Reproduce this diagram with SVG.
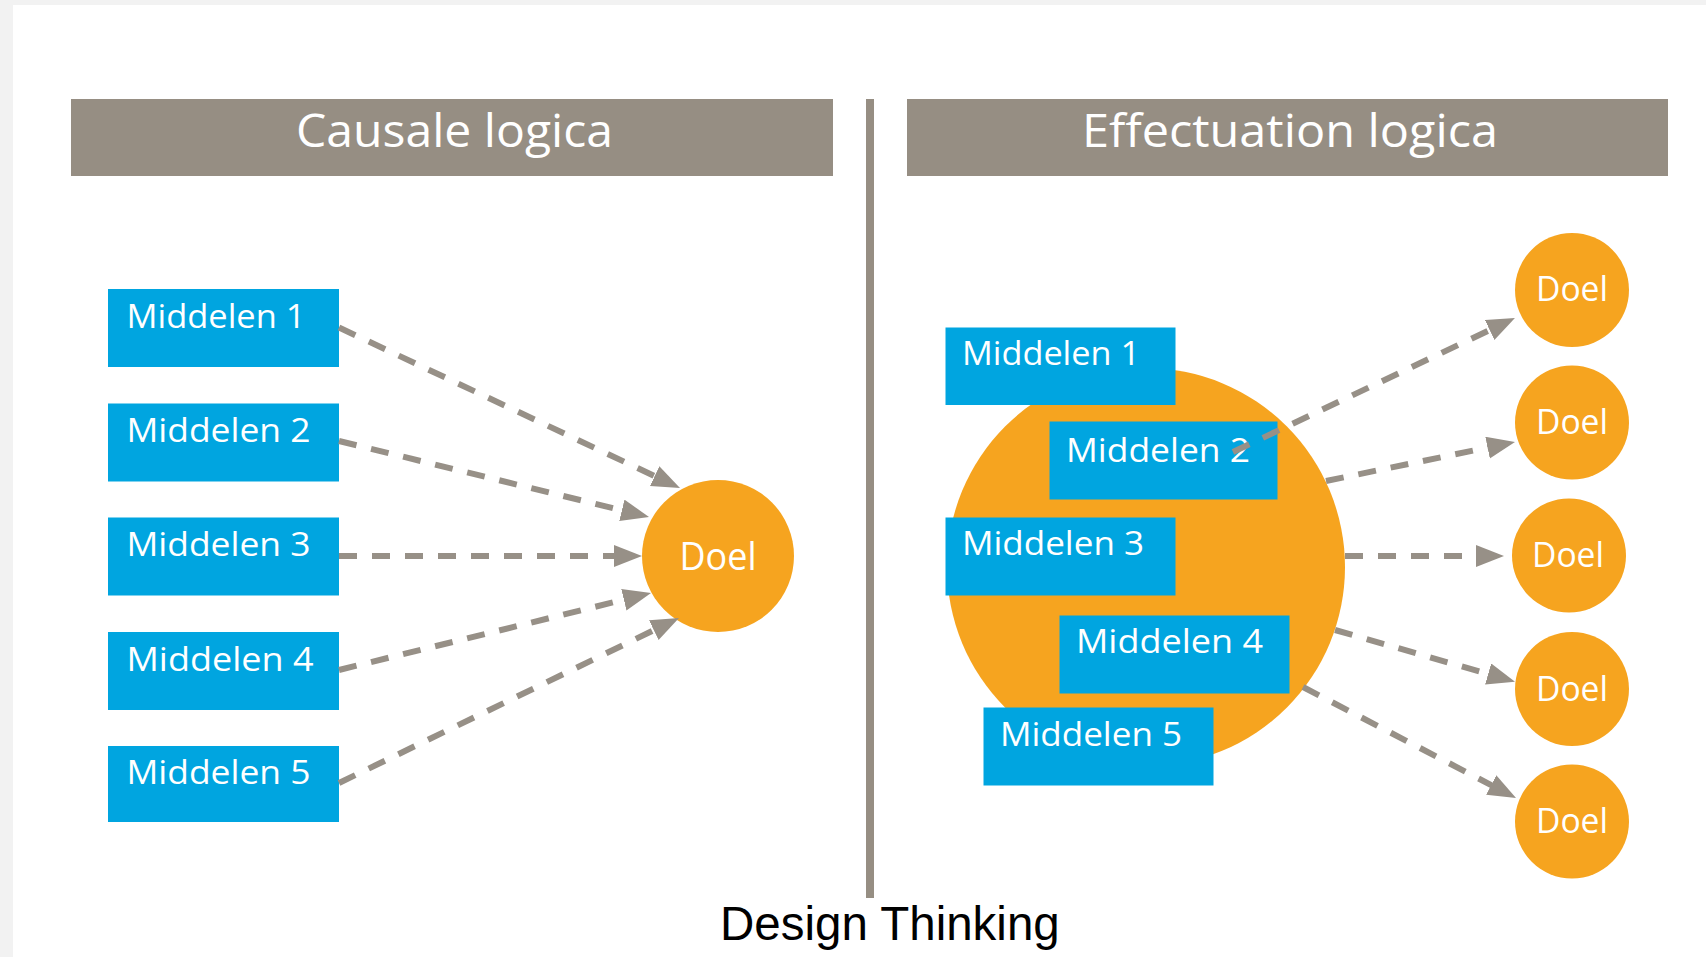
<svg xmlns="http://www.w3.org/2000/svg" width="1706" height="957" viewBox="0 0 1706 957">
  <defs>
    <style>
      .hdr { fill: #968e83; }
      .hdrtxt { font-family: "Open Sans", "Noto Sans", sans-serif; font-size: 46px; fill: #ffffff; }
      .box { fill: #00a5e0; }
      .btxt { font-family: "Open Sans", "Noto Sans", sans-serif; font-size: 33px; fill: #ffffff; }
      .doel { fill: #f6a41f; }
      .dtxt { font-family: "Open Sans", "Noto Sans", sans-serif; fill: #ffffff; text-anchor: middle; }
      .conn { stroke: #979087; stroke-width: 6; stroke-dasharray: 18 15; fill: none; marker-end: url(#arrow); }
    </style>
    <marker id="arrow" markerUnits="userSpaceOnUse" markerWidth="30" markerHeight="24" refX="8" refY="11" orient="auto">
      <path d="M0,0 L28,11 L0,22 z" fill="#979087"/>
    </marker>
  </defs>

  <rect x="0" y="0" width="1706" height="957" fill="#f2f2f2"/>
  <rect x="13" y="5" width="1693" height="952" fill="#ffffff"/>

  <g id="header-left">
    <rect class="hdr" x="71" y="99" width="762" height="77"/>
    <text class="hdrtxt" x="296" y="147" textLength="317" lengthAdjust="spacingAndGlyphs">Causale logica</text>
  </g>
  <g id="header-right">
    <rect class="hdr" x="907" y="99" width="761" height="77"/>
    <text class="hdrtxt" x="1082" y="147" textLength="416" lengthAdjust="spacingAndGlyphs">Effectuation logica</text>
  </g>
  <g id="divider">
    <rect x="866" y="99" width="8" height="799" fill="#968e83"/>
  </g>

  <!-- Left: causal -->
  <g id="l-m1"><rect class="box" x="108" y="289" width="231" height="78"/><text class="btxt" x="126.5" y="327.5" textLength="179" lengthAdjust="spacingAndGlyphs">Middelen 1</text></g>
  <g id="l-m2"><rect class="box" x="108" y="403.5" width="231" height="78"/><text class="btxt" x="126.5" y="442" textLength="184" lengthAdjust="spacingAndGlyphs">Middelen 2</text></g>
  <g id="l-m3"><rect class="box" x="108" y="517.5" width="231" height="78"/><text class="btxt" x="126.5" y="556" textLength="184" lengthAdjust="spacingAndGlyphs">Middelen 3</text></g>
  <g id="l-m4"><rect class="box" x="108" y="632" width="231" height="78"/><text class="btxt" x="126.5" y="670.5" textLength="187" lengthAdjust="spacingAndGlyphs">Middelen 4</text></g>
  <g id="l-m5"><rect class="box" x="108" y="746" width="231" height="76"/><text class="btxt" x="126.5" y="784" textLength="184" lengthAdjust="spacingAndGlyphs">Middelen 5</text></g>
  <g id="l-doel"><circle class="doel" cx="718" cy="556" r="76"/><text class="dtxt" x="718" y="570" font-size="38" textLength="77" lengthAdjust="spacingAndGlyphs">Doel</text></g>

  <!-- Right: effectuation -->
  <g id="r-pool"><circle class="doel" cx="1146" cy="567" r="199"/></g>
  <g id="r-m1"><rect class="box" x="945.5" y="327.5" width="230" height="77.5"/><text class="btxt" x="962" y="365" textLength="178" lengthAdjust="spacingAndGlyphs">Middelen 1</text></g>
  <g id="r-m2"><rect class="box" x="1049.5" y="421.5" width="228" height="78"/><text class="btxt" x="1066" y="461.5" textLength="184" lengthAdjust="spacingAndGlyphs">Middelen 2</text></g>
  <g id="r-m3"><rect class="box" x="945.5" y="517.5" width="230" height="78"/><text class="btxt" x="962" y="555" textLength="182" lengthAdjust="spacingAndGlyphs">Middelen 3</text></g>
  <g id="r-m4"><rect class="box" x="1059.5" y="615.5" width="230" height="78"/><text class="btxt" x="1076" y="653.3" textLength="187" lengthAdjust="spacingAndGlyphs">Middelen 4</text></g>
  <g id="r-m5"><rect class="box" x="983.5" y="707.5" width="230" height="78"/><text class="btxt" x="1000" y="746" textLength="182" lengthAdjust="spacingAndGlyphs">Middelen 5</text></g>

  <g id="connectors">
    <line class="conn" x1="339" y1="327.5" x2="661.9" y2="479.5"/>
    <line class="conn" x1="339" y1="441" x2="629.6" y2="512.2"/>
    <line class="conn" x1="339" y1="556" x2="622" y2="556"/>
    <line class="conn" x1="339" y1="670" x2="631.6" y2="597.8"/>
    <line class="conn" x1="339" y1="783" x2="661" y2="626.7"/>

    <line class="conn" x1="1233" y1="452" x2="1496.9" y2="326.6"/>
    <line class="conn" x1="1326" y1="481" x2="1495.4" y2="446"/>
    <line class="conn" x1="1345" y1="556" x2="1484" y2="556"/>
    <line class="conn" x1="1335" y1="630" x2="1495.8" y2="676.2"/>
    <line class="conn" x1="1303" y1="687" x2="1498.3" y2="788.8"/>
  </g>

  <g id="r-doel1"><circle class="doel" cx="1572" cy="290" r="57"/><text class="dtxt" x="1572" y="301" font-size="34" textLength="72" lengthAdjust="spacingAndGlyphs">Doel</text></g>
  <g id="r-doel2"><circle class="doel" cx="1572" cy="422.5" r="57"/><text class="dtxt" x="1572" y="434" font-size="34" textLength="72" lengthAdjust="spacingAndGlyphs">Doel</text></g>
  <g id="r-doel3"><circle class="doel" cx="1569" cy="555.5" r="57"/><text class="dtxt" x="1568" y="567" font-size="34" textLength="72" lengthAdjust="spacingAndGlyphs">Doel</text></g>
  <g id="r-doel4"><circle class="doel" cx="1572" cy="689" r="57"/><text class="dtxt" x="1572" y="700.5" font-size="34" textLength="72" lengthAdjust="spacingAndGlyphs">Doel</text></g>
  <g id="r-doel5"><circle class="doel" cx="1572" cy="821.5" r="57"/><text class="dtxt" x="1572" y="833" font-size="34" textLength="72" lengthAdjust="spacingAndGlyphs">Doel</text></g>

  <g id="caption">
    <text x="720" y="940" font-family="'Liberation Sans', Arial, sans-serif" font-size="47.5" fill="#000000">Design Thinking</text>
  </g>
</svg>
